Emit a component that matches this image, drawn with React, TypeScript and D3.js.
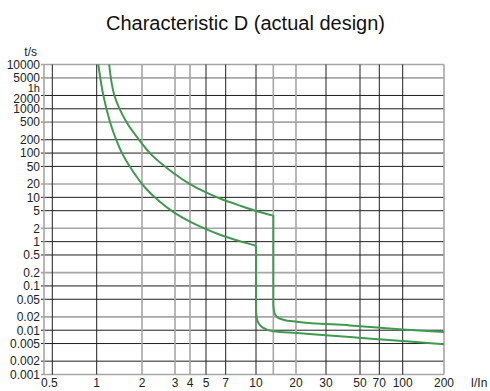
import React from "react";
import * as d3 from "d3";

const TITLE = "Characteristic D (actual design)";
const yTicks = [10000, 5000, 2000, 1000, 500, 200, 100, 50, 20, 10, 5, 2, 1, 0.5, 0.2, 0.1, 0.05, 0.02, 0.01, 0.005, 0.002, 0.001];
const yLabels = ["10000", "5000", "2000", "1000", "500", "200", "100", "50", "20", "10", "5", "2", "1", "0.5", "0.2", "0.1", "0.05", "0.02", "0.01", "0.005", "0.002", "0.001"];
const yGrey = [10000, 5000, 500, 20, 2, 0.2, 0.02, 0.001];
const xTicks = [0.5, 1, 2, 3, 4, 5, 7, 10, 20, 30, 50, 70, 100, 200];
const xLabels = ["0.5", "1", "2", "3", "4", "5", "7", "10", "20", "30", "50", "70", "100", "200"];
const xExtraGrid = [13.5];
const xGrey = [2, 3, 4, 13.5, 20, 200];

// upper curve, thermal part (I/In, t in s)
const upperThermI = [1.21, 1.31, 1.566, 1.89, 2.25, 2.94, 4, 5, 6.35, 8.28, 9.92, 13.5];
const upperThermT = [10000, 2030, 523, 210, 91, 35.6, 20, 12.9, 9.4, 6.5, 5.0, 3.87];
// upper curve, magnetic part
const upperMagI = [13.5, 13.5, 13.78, 14.52, 16.05, 20.2, 43, 100, 200];
const upperMagT = [3.87, 0.039, 0.0244, 0.0195, 0.0173, 0.0155, 0.01285, 0.0104, 0.0091];
// lower curve, thermal part
const lowerThermI = [1.025, 1.106, 1.226, 1.333, 1.5, 1.8, 2.075, 2.5, 3, 4, 5, 6.35, 8.28, 9.92, 10];
const lowerThermT = [10000, 2030, 505, 221, 88.7, 32.9, 16.7, 7.82, 4.4, 2.83, 1.91, 1.43, 1.02, 0.816, 0.8];
// lower curve, magnetic part
const lowerMagI = [10, 10, 10.17, 10.62, 11.34, 13.5, 20.2, 43, 100, 200];
const lowerMagT = [0.8, 0.0301, 0.0179, 0.0134, 0.0113, 0.0095, 0.0087, 0.007, 0.0057, 0.0048];

const W = 490, H = 391;
const L = 44, R = 444, T = 64.5, B = 374.5;

export default function App() {
  // the reference grid is a hand-drawn, slightly irregular log grid: piecewise log scale through its tick positions
  const x = d3.scaleLog()
    .domain(xTicks)
    .range([52.3, 96.7, 142, 175, 190, 206, 225.7, 256, 296, 326, 360, 379.3, 402.7, R]);
  const y = d3.scaleLog().domain([0.001, 10000]).range([B, T]);

  const mk = (I: number[], t: number[]) => I.map((v, i) => [v, t[i]] as [number, number]);
  const green = "#3f9a50";
  const dark = "#1e1e1e";
  const grey = "#a6a6a6";
  const font = "'Liberation Sans', Arial, sans-serif";

  const smooth = d3.line<[number, number]>().x((d) => x(d[0])).y((d) => y(d[1])).curve(d3.curveCatmullRom.alpha(0.5));
  const mono = d3.line<[number, number]>().x((d) => x(d[0])).y((d) => y(d[1])).curve(d3.curveMonotoneX);

  const allX = [...xTicks, ...xExtraGrid];
  const labelShift = (v: number) => (v === 2000 ? 3 : 0);

  return (
    <svg width={W} height={H} style={{ position: "absolute", left: 0, top: 0, background: "#fff" }} fontFamily={font}>
      <rect x={0} y={0} width={W} height={H} fill="#fff" />
      <text x={245.5} y={29.5} textAnchor="middle" fontSize={20} fill="#111">{TITLE}</text>
      <text x={37} y={56} textAnchor="end" fontSize={12} fill="#222">t/s</text>
      <text x={479} y={387} textAnchor="middle" fontSize={12} fill="#222">I/In</text>

      {yTicks.map((v) => (
        <line key={"h" + v} x1={L - 3} x2={R} y1={y(v)} y2={y(v)}
          stroke={yGrey.includes(v) ? grey : dark} strokeWidth={yGrey.includes(v) ? 1.6 : 1} />
      ))}
      {allX.map((v) => (
        <line key={"v" + v} x1={x(v)} x2={x(v)} y1={T} y2={B}
          stroke={xGrey.includes(v) ? grey : dark} strokeWidth={xGrey.includes(v) ? 1.6 : 1} />
      ))}
      <line x1={L} x2={L} y1={T} y2={B} stroke={grey} strokeWidth={1.6} />

      {yTicks.map((v, i) => (
        <text key={"yl" + v} x={40} y={y(v) + labelShift(v)} dy="0.36em" textAnchor="end" fontSize={12} fill="#222">{yLabels[i]}</text>
      ))}
      <text x={40} y={y(3600) + 3.5} dy="0.36em" textAnchor="end" fontSize={11} fill="#222">1h</text>
      {xTicks.map((v, i) => (
        <text key={"xl" + v} x={x(v) - (v === 0.5 ? 3 : 0)} y={387} textAnchor="middle" fontSize={12} fill="#222">{xLabels[i]}</text>
      ))}

      <g fill="none" stroke={green} strokeWidth={2} strokeLinejoin="round">
        <path d={smooth(mk(upperThermI, upperThermT)) || ""} />
        <path d={mono(mk(upperMagI, upperMagT)) || ""} />
        <path d={smooth(mk(lowerThermI, lowerThermT)) || ""} />
        <path d={mono(mk(lowerMagI, lowerMagT)) || ""} />
      </g>
    </svg>
  );
}
